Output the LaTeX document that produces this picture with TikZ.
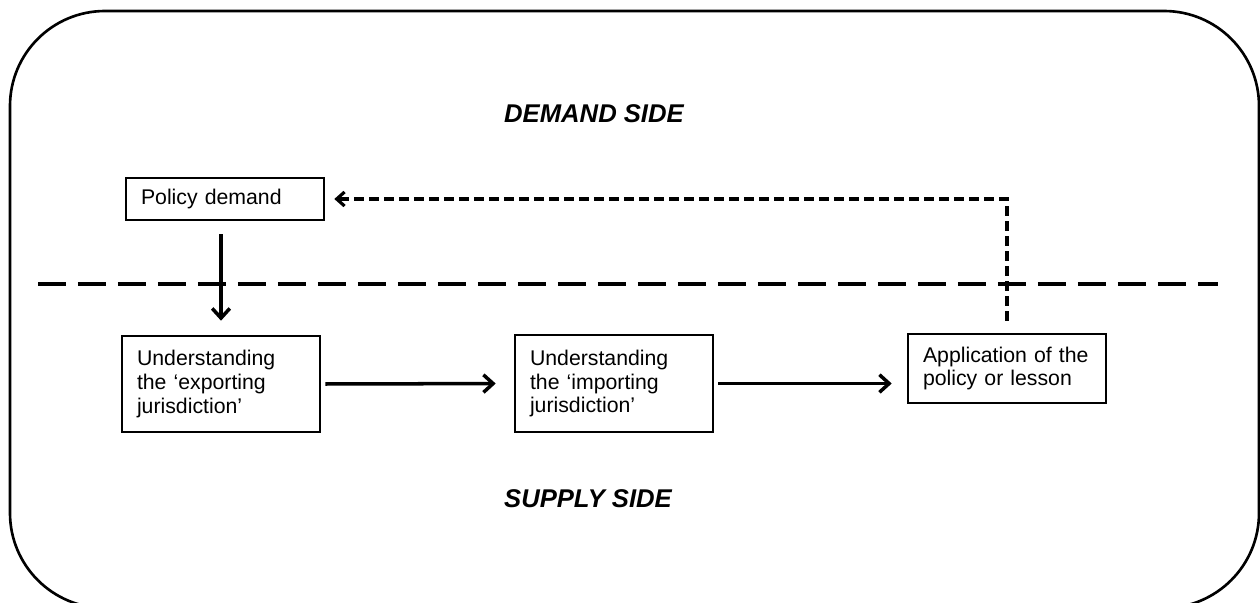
\documentclass[tikz,border=0pt]{standalone}
\usepackage{fontspec}
\setmainfont{Liberation Sans}
\usetikzlibrary{arrows.meta}

\def\ll{0.02}

\begin{document}
\begin{tikzpicture}[x=\ll cm,y=-\ll cm,
  box/.style={draw,line width=1.5pt,inner xsep=0.3cm,inner ysep=0pt,text width=3.36cm,align=left,font=\fontsize{12.1}{13.6}\selectfont},
  side/.style={font=\fontsize{14.6}{17}\selectfont\bfseries\itshape},
  arr/.style={line width=2pt,-{Straight Barb[length=5.5pt,width=10pt,line width=2pt]}},
  back arr/.style={line width=1.8pt,dash pattern=on 0.2cm off 0.1cm,-{Straight Barb[length=4.5pt,width=8pt,line width=1.8pt]}}]
\useasboundingbox (0,0) rectangle (1260,602);
\clip (0,0) rectangle (1260,602);
\draw[line width=1.5pt,rounded corners=1.9cm] (10,11) rectangle (1259,608);
\draw[line width=2pt,dash pattern=on 0.56cm off 0.24cm] (38,284) -- (1218,284);
\node[side] (demand) at (594,114) {DEMAND SIDE};
\node[side] (supply) at (588,499) {SUPPLY SIDE};
\node[box,minimum height=0.84cm] (policy) at (225,199) {Policy demand};
\node[box,minimum height=1.92cm] (ex) at (221,384) {Understanding\\the `exporting\\jurisdiction'};
\node[box,minimum height=1.94cm] (im) at (614,383.5) {Understanding\\the `importing\\jurisdiction'};
\node[box,minimum height=1.38cm] (app) at (1007,368.5) {Application of the\\policy or lesson};
\draw[arr,shorten <=13*\ll cm,shorten >=14*\ll cm] (policy.south -| ex.north) -- (ex.north);
\draw[arr,shorten <=4*\ll cm,shorten >=18*\ll cm] (ex.east) -- (im.west);
\draw[arr,shorten <=4*\ll cm,shorten >=15*\ll cm] (im.east) -- (im.east -| app.west);
\draw[back arr,shorten <=12*\ll cm,shorten >=9*\ll cm] (app.north) |- (policy.east);
\end{tikzpicture}
\end{document}
